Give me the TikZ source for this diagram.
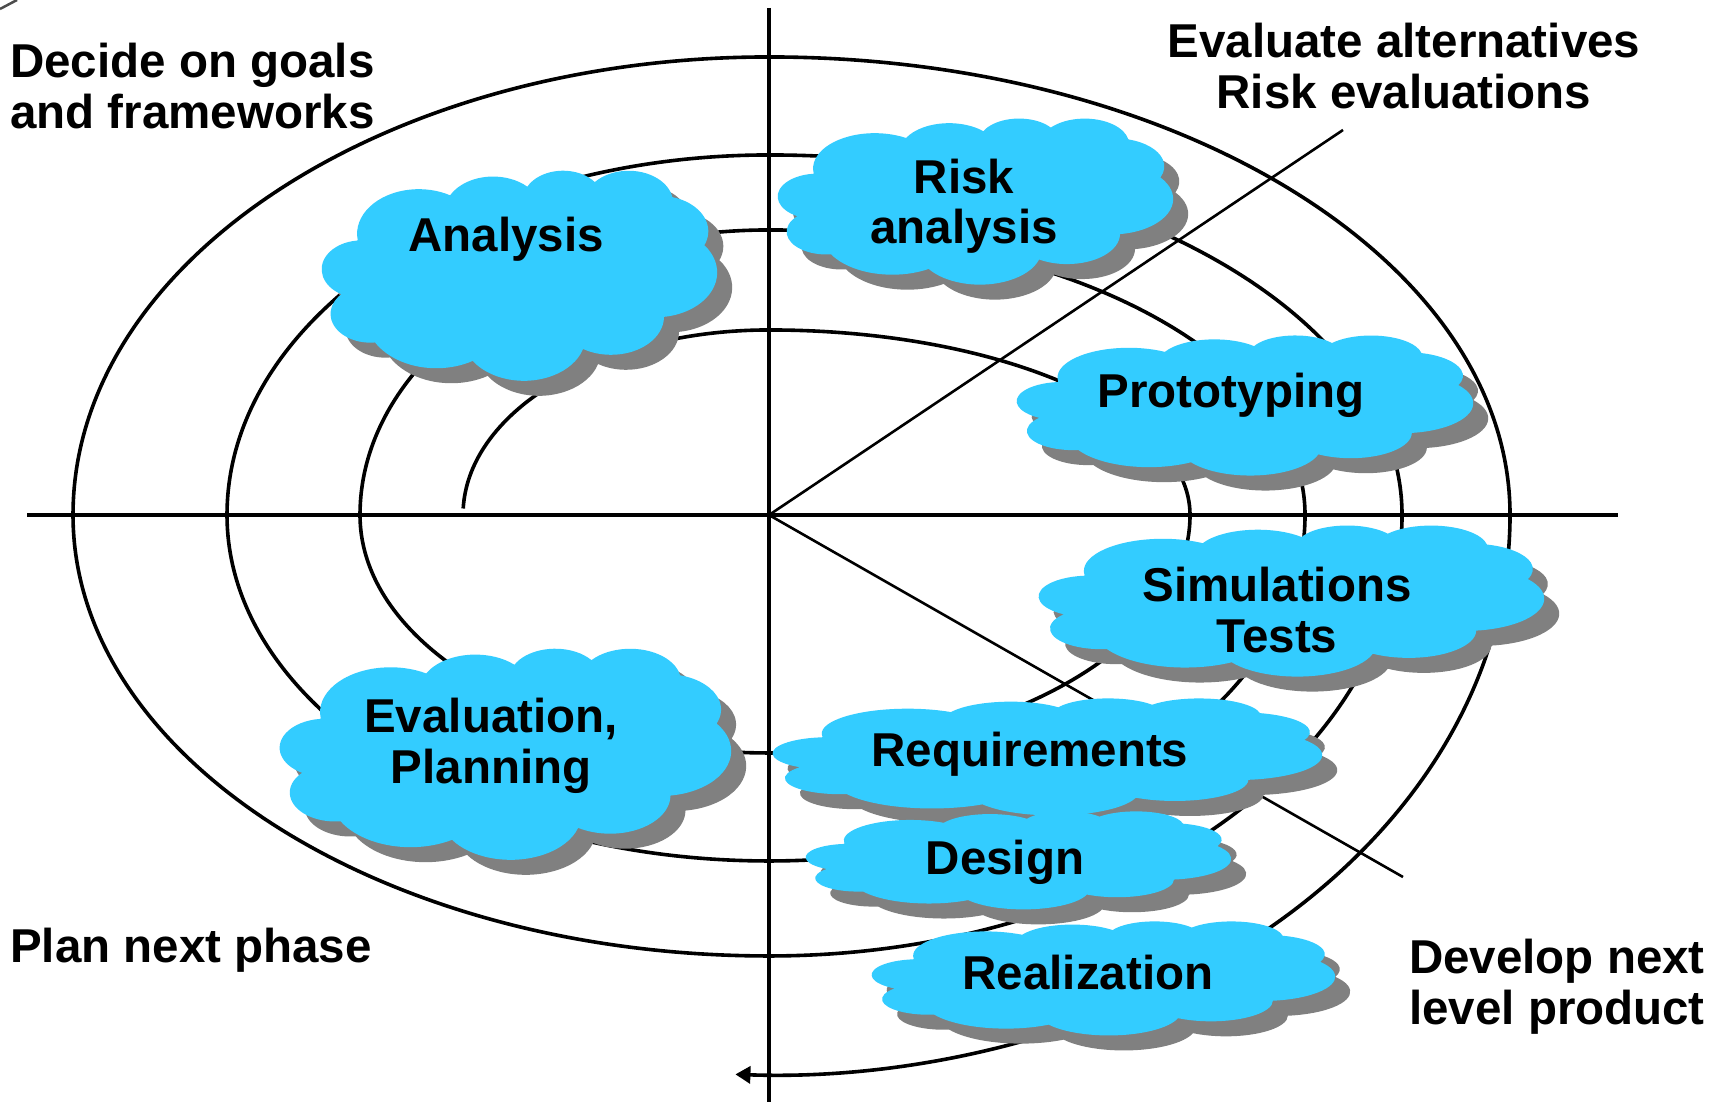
\documentclass[tikz,border=0pt]{standalone}
\usepackage{fontspec}
\setmainfont{Liberation Sans}
\usetikzlibrary{arrows.meta}

\definecolor{cloudblue}{HTML}{33CCFF}
\definecolor{cloudshade}{HTML}{808080}

\newcommand\phasefont{\fontsize{47.5}{51}\selectfont\bfseries}

% Office-style cloud outline inside the box (left, top, width, height);
% y grows downwards in this picture.
\newcommand\cloudoutline[4]{%
  (#1+0.09028*#3, #2+0.33264*#4)
  \foreach \cw/\ch/\ca/\cd in {%
    0.15632/0.21273/172.26/128.11,
    0.12345/0.16822/-152.02/106.59,
    0.10104/0.13762/-153.48/116.16,
    0.11243/0.15266/-139.69/129.48,
    0.12345/0.16836/-74.77/97.98,
    0.15683/0.21343/-37.53/119.40,
    0.13391/0.18211/0.46/121.52,
    0.15630/0.21331/16.85/129.38,
    0.17870/0.24405/58.98/91.21,
    0.10093/0.13699/83.31/139.81,
    0.10058/0.13762/120.35/143.76}
  { arc[start angle=\ca, delta angle=\cd, x radius={\cw*#3}, y radius={\ch*#4}] }
  -- cycle}

% cloud with its grey drop shadow
\newcommand\drawcloud[4]{%
  \fill[cloudshade] \cloudoutline{#1+15}{#2+15}{#3}{#4};
  \fill[cloudblue] \cloudoutline{#1}{#2}{#3}{#4};}

\begin{document}
\begin{tikzpicture}[x=1pt, y=1pt, yscale=-1,
  spiral/.style={line width=3.6pt, black},
  axisline/.style={line width=3.4pt, black},
  ray/.style={line width=2.6pt, black},
  lbl/.style={font=\phasefont, inner sep=0pt, align=center, text=black},
]
\useasboundingbox (0,0) rectangle (1723,1102);
\fill[white] (0,0) rectangle (1723,1102);

% reference points
\coordinate (O) at (769,515);
\coordinate (vtop) at (769,8);
\coordinate (vbot) at (769,1102);
\coordinate (hleft) at (27,515);
\coordinate (hright) at (1618,515);
\coordinate (rayup) at (1343,130);
\coordinate (raydown) at (1403,877);
\coordinate (spiralstart) at (463.2,508.5);

% small mark in the corner
\draw[line width=2.5pt, black!70] (0,9) -- (17,0);

% the spiral, built from quarter ellipses
\draw[spiral, -{Triangle[length=15pt,width=17pt]}] (spiralstart)
  arc[start angle=182, end angle=270, x radius=306, y radius=185]
  arc[start angle=270, end angle=360, x radius=421, y radius=185]
  arc[start angle=0, end angle=90, x radius=421, y radius=238]
  arc[start angle=90, end angle=180, x radius=409, y radius=238]
  arc[start angle=180, end angle=270, x radius=409, y radius=285]
  arc[start angle=270, end angle=360, x radius=536, y radius=285]
  arc[start angle=0, end angle=90, x radius=536, y radius=346]
  arc[start angle=90, end angle=180, x radius=542, y radius=346]
  arc[start angle=180, end angle=270, x radius=542, y radius=360]
  arc[start angle=270, end angle=360, x radius=633, y radius=360]
  arc[start angle=0, end angle=90, x radius=633, y radius=441]
  arc[start angle=90, end angle=180, x radius=696, y radius=441]
  arc[start angle=180, end angle=270, x radius=696, y radius=458]
  arc[start angle=270, end angle=360, x radius=741, y radius=458]
  arc[start angle=0, end angle=92.6, x radius=741, y radius=560];

% axes and sector rays
\draw[axisline] (vtop) -- (vbot);
\draw[axisline] (hleft) -- (hright);
\draw[ray] (O) -- (rayup);
\draw[ray] (O) -- (raydown);

% clouds
\drawcloud{322}{170}{395}{210}
\drawcloud{778}{118}{395}{166}
\drawcloud{1017}{335}{456}{140}
\drawcloud{1039}{525}{505}{151}
\drawcloud{280}{648}{451}{211}
\drawcloud{773}{698}{549}{117}
\drawcloud{806}{811}{425}{98}
\drawcloud{872}{921}{463}{114}

% quadrant captions
\node[lbl, anchor=west, align=left] (goals) at (10,93.3) {\strut Decide on goals\\\strut and frameworks};
\node[lbl] (evalalt) at (1404,73.3) {\strut Evaluate alternatives\\\strut Risk evaluations};
\node[lbl, anchor=base west] (plan) at (10,962) {Plan next phase};
\node[lbl] (develop) at (1557,988.3) {\strut Develop next\\\strut level product};

% cloud captions
\node[lbl, anchor=base] (analysis) at (506,251) {Analysis};
\node[lbl] (risk) at (964,208.3) {\strut Risk\\\strut analysis};
\node[lbl, anchor=base] (proto) at (1231,407) {Prototyping};
\node[lbl] (sim) at (1277,616.3) {\strut Simulations\\\strut Tests};
\node[lbl, anchor=base] (req) at (1030,766) {Requirements};
\node[lbl, anchor=base] (design) at (1005,874) {Design};
\node[lbl, anchor=base] (real) at (1088,989) {Realization};
\node[lbl] (evalplan) at (491,747.3) {\strut Evaluation,\\\strut Planning};
\end{tikzpicture}
\end{document}
